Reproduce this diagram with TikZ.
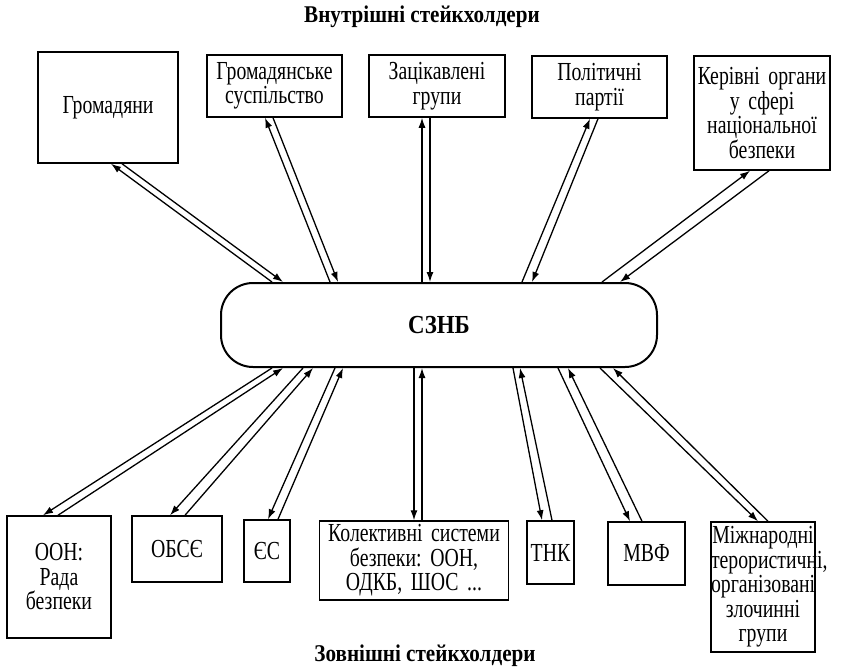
\documentclass[tikz,border=0pt]{standalone}
\usepackage{fontspec}
\setmainfont{Liberation Serif}[FakeStretch=0.76]
\newfontfamily\headfont{Liberation Serif}[FakeStretch=0.88]
\usepackage{tikz}
\usetikzlibrary{arrows.meta,calc}
\frenchspacing
\tikzstyle{stakebox}=[rectangle,draw,line width=1.5pt,align=center,inner sep=0pt,font=\fontsize{26}{24.5}\selectfont]
\tikzstyle{hub}=[rectangle,draw,line width=2pt,rounded corners=32pt,minimum width=436pt,minimum height=84pt,inner sep=0pt,font=\headfont\bfseries\fontsize{26}{28}\selectfont]
\tikzstyle{link} = [draw,line width=1.3pt,-{Latex[length=10pt,width=7pt]}]
\tikzstyle{heading} = [font=\headfont\bfseries\fontsize{24}{27}\selectfont]

\begin{document}
\begin{tikzpicture}[x=1pt,y=-1pt]
    \useasboundingbox (0,0) rectangle (849,667);
    % Headings and the hub
    \node[heading] (inner) at (422,17) {Внутрішні стейкхолдери};
    \node[heading] (outer) at (425,656) {Зовнішні стейкхолдери};
    \node[hub] (SZNB) at (439,325) {СЗНБ};

    % First we draw the internal stakeholders
    \foreach \pos/ \name/ \w/ \h/ \txt in {{(108,107.5)/Grom/140/111/{Громадяни}},
            {(274.5,86)/GromSusp/135/62/{Громадянське\\суспільство}},
            {(437,86)/Zatsik/136/62/{Зацікавлені\\групи}},
            {(599.5,87)/Polit/135/62/{Політичні\\партії}},
            {(762,113)/Kerivni/136/114/{Керівні органи\\у сфері\\національної\\безпеки}}}
        \node[stakebox,text width=\w pt,minimum height=\h pt] (\name) at \pos {\txt};

    % then the external ones
    \foreach \pos/ \name/ \w/ \h/ \txt in {{(59,577)/OON/104/122/{ООН:\\Рада\\безпеки}},
            {(177,549)/OBSE/90/66/{ОБСЄ}},
            {(267,551)/ES/46/62/{ЄС}},
            {(414,560.5)/Kolekt/189/79/{Колективні системи\\безпеки: ООН,\\ОДКБ, ШОС ...}},
            {(550.5,552.5)/TNK/47/63/{ТНК}},
            {(646.5,553.5)/MVF/77/63/{МВФ}},
            {(763,587)/Mizhnar/104/130/{Міжнародні\\терористичні,\\організовані\\злочинні\\групи}}}
        \node[stakebox,text width=\w pt,minimum height=\h pt] (\name) at \pos {\txt};

    % Connect the hub with every stakeholder by a pair of arrows
    \foreach \name/ \ca/ \ba/ \bb/ \cb in {Grom/-167/3/14/-156, GromSusp/-109/-9.5/-1.5/-101,
            Zatsik/-17/-15/-7/-9, Polit/83/-9.5/-1.5/93, Kerivni/163/-12/7/181}
    {
        \path[link] ([xshift=\ca pt]SZNB.north) -- ([xshift=\ba pt]\name.south);
        \path[link] ([xshift=\bb pt]\name.south) -- ([xshift=\cb pt]SZNB.north);
    }
    \foreach \name/ \ca/ \ba/ \bb/ \cb in {OON/-167/-16/-1/-156, OBSE/-136/-7/8/-126,
            ES/-104/1/11/-96, Kolekt/-25/0/8/-17, TNK/74/-8.5/1.5/81,
            MVF/119/-16.5/-4.5/129, Mizhnar/161/-5/5/174}
    {
        \path[link] ([xshift=\ca pt]SZNB.south) -- ([xshift=\ba pt]\name.north);
        \path[link] ([xshift=\bb pt]\name.north) -- ([xshift=\cb pt]SZNB.south);
    }
\end{tikzpicture}
\end{document}
